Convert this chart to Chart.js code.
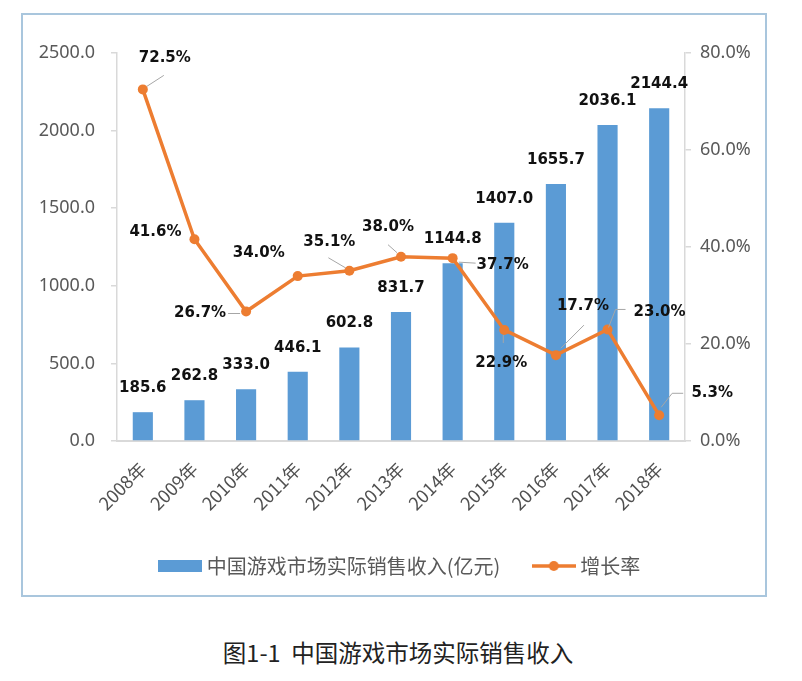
<!DOCTYPE html>
<html>
<head>
<meta charset="utf-8">
<script src="https://cdn.jsdelivr.net/npm/chart.js@4"></script>
<style>
  html, body { margin: 0; padding: 0; background: #ffffff; }
  body { width: 802px; height: 681px; position: relative; overflow: hidden; }
  #frame { position: absolute; left: 21px; top: 13px; width: 746px; height: 584px; box-sizing: border-box; border: 2px solid #a9c6dd; background: #fff; }
  #wrap { position: absolute; left: 0; top: 0; width: 742px; height: 580px; }
  #caption { position: absolute; left: 0; width: 796px; top: 634px; text-align: center; font-family: "Noto Sans CJK SC", sans-serif; font-size: 23.5px; color: #222; white-space: pre; line-height: 36px; }
</style>
</head>
<body>
<div id="frame"><div id="wrap"><canvas id="c" width="742" height="580"></canvas></div></div>
<div id="caption">图1-1  中国游戏市场实际销售收入</div>
<script>
// ---- data ----
const categories = ["2008年","2009年","2010年","2011年","2012年","2013年","2014年","2015年","2016年","2017年","2018年"];
const revenue = [185.6, 262.8, 333.0, 446.1, 602.8, 831.7, 1144.8, 1407.0, 1655.7, 2036.1, 2144.4];
const growth = [72.5, 41.6, 26.7, 34.0, 35.1, 38.0, 37.7, 22.9, 17.7, 23.0, 5.3];
const revenueLabel = "中国游戏市场实际销售收入(亿元)";
const growthLabel = "增长率";
const leftTicks = [0, 500, 1000, 1500, 2000, 2500];
const rightTicks = [0, 20, 40, 60, 80];

// ---- styling (label offsets relative to points, leader lines) ----
const growthLabelOffset = [[22,-31],[-39,-7],[-46,2],[-39,-23],[-20,-29],[-13,-30],[50,7],[-3,33],[27,-49],[52,-17],[53,-22]];
const growthLeader = [
  [[4,-3],[21,-14]], null, [[-18,2],[-6,2]], null, [[-21,-13],[-4,-3]], [[-13,-12],[-4,-4]],
  [[6,4],[23,5]], [[-1,5],[-1,13]], [[5,-7],[28,-30]], [[1,-2],[8,-20],[18,-20]], [[2,-8],[13,-22],[24,-22]]
];
const BLUE = '#5b9bd5', ORANGE = '#ed7d31', AXIS = '#d9d9d9', TXT = '#595959';

function makeImg(kind) {
  const cv = document.createElement('canvas');
  cv.width = 44; cv.height = 12;
  const g = cv.getContext('2d');
  if (kind === 'bar') { g.fillStyle = BLUE; g.fillRect(0, 0, 44, 12); }
  else {
    g.strokeStyle = ORANGE; g.lineWidth = 3.5;
    g.beginPath(); g.moveTo(0, 6); g.lineTo(44, 6); g.stroke();
    g.fillStyle = ORANGE; g.beginPath(); g.arc(22, 6, 5, 0, Math.PI*2); g.fill();
  }
  return cv;
}
const barImg = makeImg('bar'), lineImg = makeImg('line');

const labelPlugin = {
  id: 'valueLabels',
  afterDatasetsDraw(chart) {
    const ctx = chart.ctx;
    ctx.save();
    ctx.font = 'bold 15px "DejaVu Sans"';
    ctx.fillStyle = '#111';
    ctx.textAlign = 'center';
    ctx.textBaseline = 'middle';
    const barMeta = chart.getDatasetMeta(0);
    barMeta.data.forEach((el, i) => {
      ctx.fillText(revenue[i].toFixed(1), el.x, el.y - 24);
    });
    const lineMeta = chart.getDatasetMeta(1);
    ctx.strokeStyle = '#a6a6a6';
    ctx.lineWidth = 1;
    lineMeta.data.forEach((el, i) => {
      const ld = growthLeader[i];
      if (ld) {
        ctx.beginPath();
        ld.forEach((p, k) => { if (k === 0) ctx.moveTo(el.x + p[0], el.y + p[1]); else ctx.lineTo(el.x + p[0], el.y + p[1]); });
        ctx.stroke();
      }
    });
    lineMeta.data.forEach((el, i) => {
      const o = growthLabelOffset[i];
      ctx.fillText(growth[i].toFixed(1) + '%', el.x + o[0], el.y + o[1]);
    });
    ctx.restore();
  }
};

new Chart(document.getElementById('c'), {
  data: {
    labels: categories,
    datasets: [
      { type: 'bar', label: revenueLabel, data: revenue, backgroundColor: BLUE, yAxisID: 'y', order: 1,
        barPercentage: 0.39, categoryPercentage: 1.0 },
      { type: 'line', label: growthLabel, data: growth, borderColor: ORANGE, backgroundColor: ORANGE, yAxisID: 'y1', order: 0,
        borderWidth: 3.5, pointRadius: 5, pointBackgroundColor: ORANGE, pointBorderColor: ORANGE, pointBorderWidth: 0,
        tension: 0 }
    ]
  },
  options: {
    responsive: false,
    animation: false,
    devicePixelRatio: 1,
    layout: { padding: { left: 16, right: 0, top: 38, bottom: 9 } },
    plugins: {
      tooltip: { enabled: false },
      legend: {
        position: 'bottom',
        labels: {
          usePointStyle: true,
          pointStyleWidth: 33,
          padding: 37,
          color: TXT,
          font: { family: '"Noto Sans CJK SC"', size: 20 },
          sort: (a, b) => a.datasetIndex - b.datasetIndex,
          generateLabels(chart) {
            return chart.data.datasets.map((ds, i) => ({
              text: ds.label, datasetIndex: i, fillStyle: ds.backgroundColor, strokeStyle: ds.backgroundColor,
              lineWidth: 0, hidden: false, pointStyle: i === 0 ? barImg : lineImg, fontColor: TXT
            }));
          }
        }
      }
    },
    scales: {
      x: {
        grid: { display: false },
        border: { display: true, color: AXIS, width: 2 },
        ticks: { color: '#505050', font: { family: '"Noto Sans CJK SC"', size: 18 }, minRotation: 45, maxRotation: 45, padding: 9, autoSkip: false },
        afterFit(s) { s.height = 78; }
      },
      y: {
        position: 'left', min: 0, max: 2500,
        afterBuildTicks(s) { s.ticks = leftTicks.map(v => ({ value: v })); },
        grid: { drawOnChartArea: false, drawTicks: true, tickLength: 6, color: AXIS, lineWidth: 1.5 },
        border: { display: true, color: AXIS, width: 1.5 },
        ticks: { color: TXT, font: { family: '"Noto Sans"', size: 18 }, padding: 16, callback: v => Number(v).toFixed(1) },
        afterFit(s) { s.width = 78; }
      },
      y1: {
        position: 'right', min: 0, max: 80,
        afterBuildTicks(s) { s.ticks = rightTicks.map(v => ({ value: v })); },
        grid: { drawOnChartArea: false, drawTicks: true, tickLength: 6, color: AXIS, lineWidth: 1.5 },
        border: { display: true, color: AXIS, width: 1.5 },
        ticks: { color: TXT, font: { family: '"Noto Sans"', size: 18 }, padding: 9, callback: v => Number(v).toFixed(1) + '%' },
        afterFit(s) { s.width = 80; }
      }
    }
  },
  plugins: [labelPlugin]
});
</script>
</body>
</html>
